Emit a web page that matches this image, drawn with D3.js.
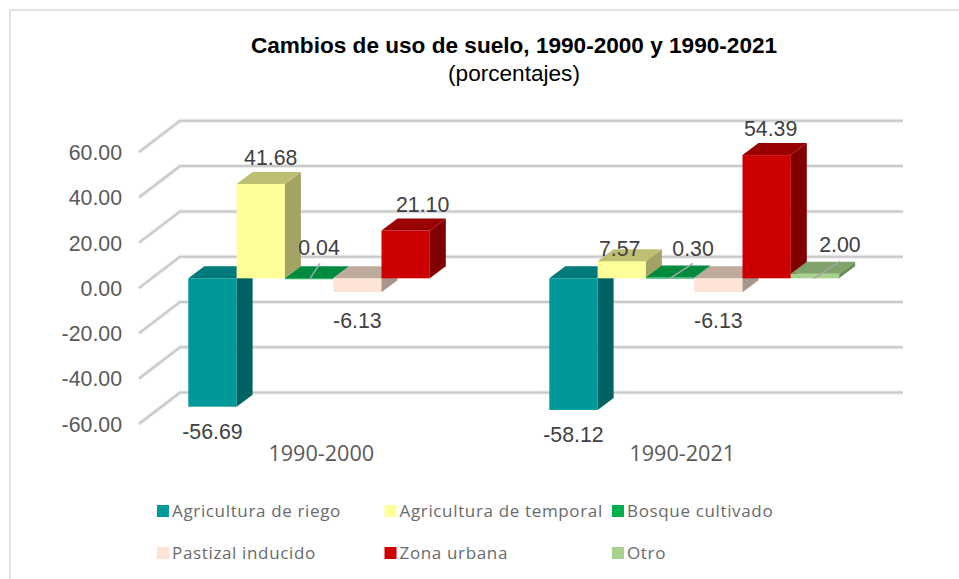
<!DOCTYPE html>
<html lang="es">
<head>
<meta charset="utf-8">
<title>Cambios de uso de suelo</title>
<script src="https://cdn.jsdelivr.net/npm/d3@7"></script>
<style>
    html, body { margin: 0; padding: 0; background: #fff; }
    svg { display: block; }
    .tit { font-family: "Liberation Sans", Arial, sans-serif; fill: #000; }
    .val { font-family: "Liberation Sans", Arial, sans-serif; font-size: 21.3px; fill: #404040; }
    .cat { font-family: "Open Sans", sans-serif; font-size: 21.6px; fill: #595959; }
    .leg { font-family: "Open Sans", sans-serif; font-size: 17px; letter-spacing: 0.65px; fill: #6a6a6a; }
</style>
</head>
<body>
<div id="chart"></div>
<script>
(function () {
    // data
    const periods = ["1990-2000", "1990-2021"];
    const landUses = ["Agricultura de riego", "Agricultura de temporal", "Bosque cultivado", "Pastizal inducido", "Zona urbana", "Otro"];
    const values2000 = [-56.69, 41.68, 0.04, -6.13, 21.10, null];
    const values2021 = [-58.12, 7.57, 0.30, -6.13, 54.39, 2.00];
    const yTicks = [60, 40, 20, 0, -20, -40, -60];

    const seriesByPeriod = [values2000, values2021];

    // face colours per land use
    const frontColors = ["#009999", "#ffff99", "#00b050", "#fde4d6", "#cc0000", "#a9d18e"];
    const topColors = ["#007a7a", "#bfbf73", "#008a3e", "#bfaa9e", "#990000", "#7fa36b"];
    const sideColors = ["#006363", "#a3a366", "#006f32", "#a8968a", "#800000", "#6f8f5d"];

    const W = 959, H = 579;
    const fmt = v => v.toFixed(2); // plain hyphen for negatives, like the original

    const svg = d3.select("#chart").append("svg")
        .attr("width", W)
        .attr("height", H)
        .attr("viewBox", `0 0 ${W} ${H}`);

    // frame, only top and left show in the picture
    svg.append("path")
        .attr("d", `M10,${H} V10 H${W}`)
        .attr("fill", "none")
        .attr("stroke", "#e2e2e2")
        .attr("stroke-width", 2);

    // titles
    svg.append("text").attr("class", "tit")
        .attr("x", 514).attr("y", 53)
        .attr("text-anchor", "middle")
        .style("font-size", "22.6px").style("font-weight", "bold")
        .text("Cambios de uso de suelo, 1990-2000 y 1990-2021");
    svg.append("text").attr("class", "tit")
        .attr("x", 514).attr("y", 81)
        .attr("text-anchor", "middle")
        .style("font-size", "22.6px")
        .text("(porcentajes)");

    // scales, y is for the front face of the bars
    const y = d3.scaleLinear().domain([-60, 60]).range([414.2, 142.4]);
    const x0 = d3.scaleBand().domain(periods).range([188.3, 188.3 + 361 * 2]);
    const x1 = d3.scaleBand().domain(landUses).range([0, 48.3 * 6]);

    // 3d offsets
    const wall = { dx: 41, front: 9.7, back: -21.6, left: 139, right: 903 };
    const barDx = 16, barDy = -12;

    // gridlines on the side and back walls
    const grid = svg.append("g");
    [["#ececec", 4], ["#c9c9c9", 2]].forEach(([col, sw]) => {
        grid.selectAll(null)
            .data(yTicks)
            .enter().append("polyline")
            .attr("points", d => `${wall.left},${y(d) + wall.front} ${wall.left + wall.dx},${y(d) + wall.back} ${wall.right},${y(d) + wall.back}`)
            .attr("fill", "none")
            .attr("stroke", col)
            .attr("stroke-width", sw);
    });

    // y axis labels
    const yAxis = d3.axisLeft(y)
        .tickValues(yTicks)
        .tickSize(0)
        .tickPadding(0)
        .tickFormat(fmt);
    const axisG = svg.append("g")
        .attr("transform", `translate(122,${wall.front + 0.5})`)
        .call(yAxis);
    axisG.select(".domain").remove();
    axisG.selectAll("text")
        .style("font-family", '"Liberation Sans", Arial, sans-serif')
        .style("font-size", "21.3px")
        .attr("fill", "#595959");

    // bars
    const barW = x1.bandwidth();
    function drawBar(g, px, v, i) {
        const y0 = y(0), yv = y(v);
        const top = Math.min(y0, yv), bot = Math.max(y0, yv);
        const x = px + x1(landUses[i]);
        g.append("rect")
            .attr("x", x).attr("y", top)
            .attr("width", barW).attr("height", Math.max(bot - top, 1))
            .attr("fill", frontColors[i]);
        g.append("polygon")
            .attr("points", `${x + barW},${top} ${x + barW + barDx},${top + barDy} ${x + barW + barDx},${bot + barDy} ${x + barW},${bot}`)
            .attr("fill", sideColors[i]);
        g.append("polygon")
            .attr("points", `${x},${top} ${x + barDx},${top + barDy} ${x + barW + barDx},${top + barDy} ${x + barW},${top}`)
            .attr("fill", topColors[i]);
    }

    const bars = svg.append("g");
    periods.forEach((p, k) => {
        const g = bars.append("g");
        seriesByPeriod[k].forEach((v, i) => {
            if (v !== null) drawBar(g, x0(p), v, i);
        });
    });

    // label nudges relative to the bar: [dx, dy from bar end], Excel moved a few by hand
    const labelNudge = [
        [[0, 32], [10, -19], [10, -23], [0, 36], [17, -19], null],
        [[0, 32], [-2, -5], [23, -22], [0, 36], [4, -19], [25, -22]]
    ];
    // leader lines for the dragged labels: [period, land use, dx1, dy1, dx2, dy2]
    const leaders = [
        [0, 2, 1, 0, 11, -15],
        [1, 2, 0, 0, 23, -15],
        [1, 5, -1, 0, 25, -17]
    ];

    const labels = svg.append("g");
    leaders.forEach(([k, i, a, b, c, d]) => {
        const cx = x0(periods[k]) + x1(landUses[i]) + barW / 2;
        const yv = y(0);
        labels.append("line")
            .attr("x1", cx + a).attr("y1", yv + b)
            .attr("x2", cx + c).attr("y2", yv + d)
            .attr("stroke", "#a6a6a6")
            .attr("stroke-width", 1.5);
    });
    periods.forEach((p, k) => {
        seriesByPeriod[k].forEach((v, i) => {
            if (v === null) return;
            const [dx, dy] = labelNudge[k][i];
            labels.append("text").attr("class", "val")
                .attr("x", x0(p) + x1(landUses[i]) + barW / 2 + dx)
                .attr("y", y(v) + dy)
                .attr("text-anchor", "middle")
                .text(fmt(v));
        });
    });

    // category labels
    svg.append("g").selectAll("text")
        .data(periods)
        .enter().append("text")
        .attr("class", "cat")
        .attr("x", d => x0(d) + 133)
        .attr("y", 461)
        .attr("text-anchor", "middle")
        .text(d => d);

    // legend, 3 columns 2 rows
    const legX = d3.scalePoint().domain([0, 1, 2]).range([157, 612]);
    const legY = d3.scalePoint().domain([0, 1]).range([511, 553]);
    const leg = svg.append("g").selectAll("g")
        .data(landUses)
        .enter().append("g")
        .attr("transform", (d, i) => `translate(${legX(i % 3)},${legY(Math.floor(i / 3))})`);
    leg.append("rect")
        .attr("y", -6).attr("width", 12).attr("height", 12)
        .attr("fill", (d, i) => frontColors[i]);
    leg.append("text").attr("class", "leg")
        .attr("x", 15).attr("y", 6)
        .text(d => d);
})();
</script>
</body>
</html>
